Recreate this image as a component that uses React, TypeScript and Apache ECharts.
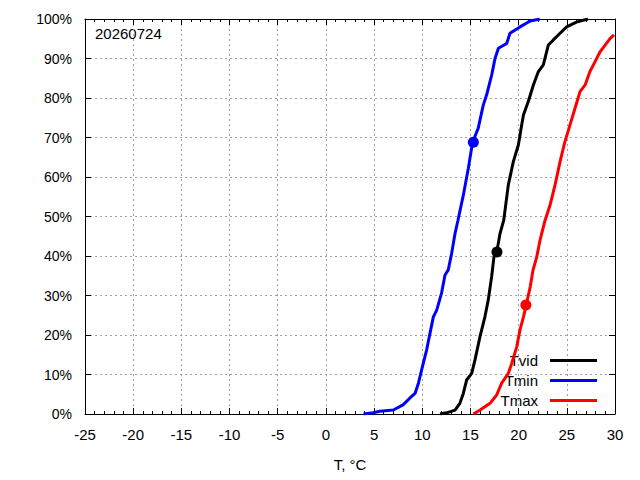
import React, { useEffect, useRef } from "react";
import * as echarts from "echarts";

const xTicks = [-25, 30, 5];
const yTickLabels = ["0%", "10%", "20%", "30%", "40%", "50%", "60%", "70%", "80%", "90%", "100%"];
const dateLabel = "20260724";
const seriesNames = ["Tvid", "Tmin", "Tmax"];
const seriesColors = ["#000000", "#0000ff", "#ff0000"];

const tvidT = [11.84, 12.53, 13.4, 13.9, 14.26, 14.6, 15.13, 15.47, 15.99, 16.5, 16.85, 17.2, 17.44, 17.72, 18.07, 18.45, 18.93, 19.45, 19.97, 20.32, 20.5, 21.0, 21.53, 22.05, 22.56, 23.08, 23.6, 24.3, 24.98, 26.0, 26.9, 27.2];
const tvidP = [0, 0.3, 1, 2.7, 5.2, 8.6, 10.3, 13.7, 19.6, 24.6, 28.9, 34.8, 39.8, 40.9, 45.7, 49, 58, 63.9, 68.1, 73.2, 75.7, 79.1, 83.3, 86.7, 88.4, 93.4, 94.7, 96.4, 98, 99.2, 99.8, 100];

const tminT = [3.9, 4.9, 5.6, 7.0, 8.0, 8.7, 9.25, 9.6, 10.1, 10.45, 10.8, 11.15, 11.5, 12.0, 12.36, 12.7, 13.05, 13.4, 13.7, 14.26, 14.78, 15.22, 15.8, 16.33, 16.68, 17.2, 17.55, 17.9, 18.76, 19.1, 20.14, 21.2, 22.2];
const tminP = [0, 0.3, 0.7, 1.0, 2.3, 4.0, 5.2, 7.8, 12.8, 16.2, 20.4, 24.6, 26.3, 30.6, 35.2, 36.5, 40.7, 45.7, 49, 55.4, 62.2, 68.8, 72.3, 78.2, 80.8, 85.8, 90, 92.6, 93.8, 96.4, 98, 99.5, 100];

const tmaxT = [15.3, 16.0, 17.03, 17.72, 18.24, 18.93, 19.28, 19.8, 20.14, 20.5, 20.77, 21.2, 21.5, 21.88, 22.22, 22.74, 23.26, 23.78, 24.3, 24.8, 25.33, 25.85, 26.37, 26.9, 27.4, 27.93, 28.45, 28.97, 29.5, 29.9];
const tmaxP = [0, 1, 2.7, 4.8, 7.8, 10.3, 12.8, 17, 21.3, 24.6, 27.4, 32.2, 36.5, 39.8, 44, 49, 52.9, 58, 63.9, 68.9, 73.2, 77.4, 81.6, 83.3, 86.7, 89.2, 91.7, 93.4, 95.1, 96];

const markerT = [17.75, 15.3, 20.75];
const markerP = [41, 68.8, 27.6];

const FONT = "Liberation Sans, Arial, sans-serif";

export default function App() {
  const ref = useRef<HTMLDivElement>(null);
  useEffect(() => {
    if (!ref.current) return;
    const chart = echarts.init(ref.current, undefined, { renderer: "svg" });
    const curves = [
      tvidT.map((t, i) => [t, tvidP[i]]),
      tminT.map((t, i) => [t, tminP[i]]),
      tmaxT.map((t, i) => [t, tmaxP[i]]),
    ];
    const gridLine = { show: true, lineStyle: { color: "#a0a0a0", type: [2, 3], width: 1 } };
    const xCommon = {
      type: "value",
      min: xTicks[0],
      max: xTicks[1],
      interval: xTicks[2],
      axisLine: { show: true, onZero: false, lineStyle: { color: "#000", width: 1 } },
      axisTick: { show: true, inside: true, length: 6, lineStyle: { color: "#000" } },
      minorTick: { show: true, splitNumber: 5, length: 3, lineStyle: { color: "#000" } },
    };
    const yCommon = {
      type: "value",
      min: 0,
      max: 100,
      interval: 10,
      axisLine: { show: true, onZero: false, lineStyle: { color: "#000", width: 1 } },
      axisTick: { show: true, inside: true, length: 6, lineStyle: { color: "#000" } },
    };
    const lineSeries = seriesNames.map((name, i) => ({
      name,
      type: "line",
      data: curves[i],
      showSymbol: false,
      symbol: "none",
      lineStyle: { color: seriesColors[i], width: 3 },
      itemStyle: { color: seriesColors[i] },
      z: 2 + i,
    }));
    const markerSeries = seriesNames.map((name, i) => ({
      name: name + "_pt",
      type: "scatter",
      data: [[markerT[i], markerP[i]]],
      symbol: "circle",
      symbolSize: 11,
      itemStyle: { color: seriesColors[i], opacity: 1 },
      z: 6,
    }));
    const legends = seriesNames.map((name, i) => ({
      data: [name],
      orient: "vertical",
      right: 43,
      top: 353 + i * 20,
      align: "right",
      padding: 0,
      icon: "rect",
      itemWidth: 47,
      itemHeight: 3,
      selectedMode: false,
      textStyle: { color: "#000", fontSize: 15, fontFamily: FONT, padding: [0, 7, 0, 0] },
    }));
    chart.setOption({
      animation: false,
      backgroundColor: "#fff",
      textStyle: { fontFamily: FONT },
      grid: { left: 85, right: 25, top: 19, bottom: 66, containLabel: false },
      xAxis: [
        {
          ...xCommon,
          position: "bottom",
          name: "T, °C",
          nameLocation: "middle",
          nameGap: 43,
          nameTextStyle: { color: "#000", fontSize: 15, fontFamily: FONT },
          axisLabel: { color: "#000", fontSize: 15, fontFamily: FONT, margin: 13 },
          splitLine: gridLine,
        },
        {
          ...xCommon,
          position: "top",
          axisLabel: { show: false },
          splitLine: { show: false },
        },
      ],
      yAxis: [
        {
          ...yCommon,
          position: "left",
          axisLabel: {
            color: "#000",
            fontSize: 14,
            fontFamily: FONT,
            margin: 13,
            formatter: (v: number) => yTickLabels[Math.round(v / 10)],
          },
          splitLine: gridLine,
        },
        {
          ...yCommon,
          position: "right",
          axisLabel: { show: false },
          splitLine: { show: false },
        },
      ],
      legend: legends,
      series: [...lineSeries, ...markerSeries],
      graphic: [
        {
          type: "text",
          left: 95,
          top: 26,
          style: { text: dateLabel, fill: "#000", font: `15px ${FONT}` },
        },
      ],
    });
    return () => chart.dispose();
  }, []);
  return (
    <div
      ref={ref}
      style={{ position: "fixed", left: 0, top: 0, width: 640, height: 480, background: "#fff" }}
    />
  );
}
